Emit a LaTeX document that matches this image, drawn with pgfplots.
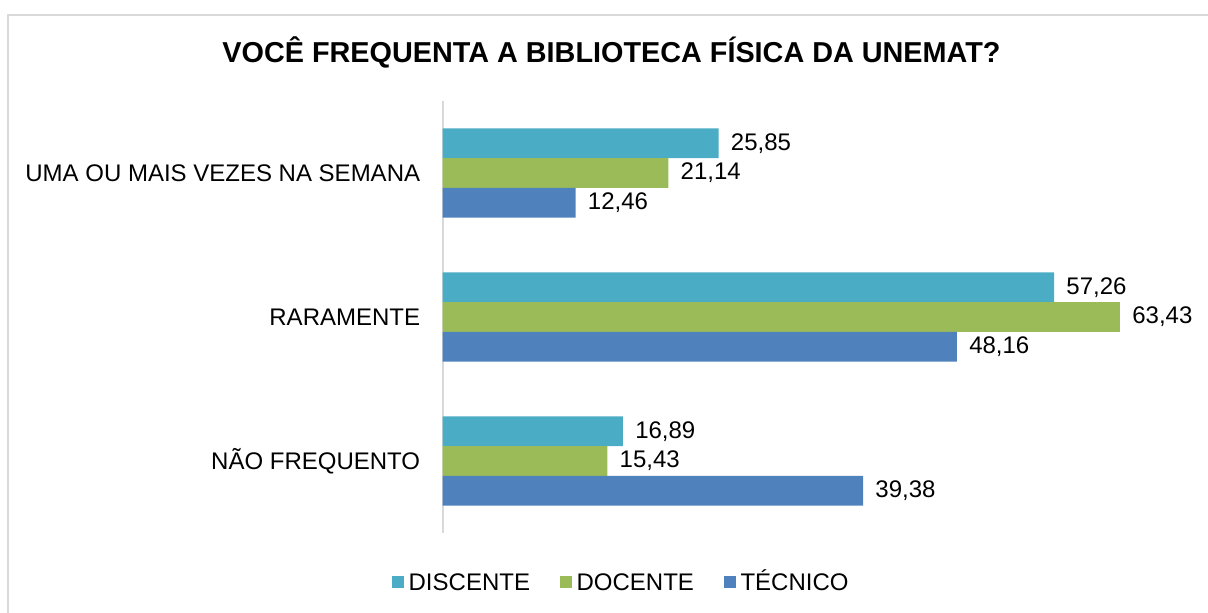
\documentclass[border=0pt]{standalone}
\usepackage{fontspec}
\setmainfont{Liberation Sans}
\usepackage{pgfplots}
\pgfplotsset{compat=1.18}
\definecolor{cDis}{HTML}{4BACC6}
\definecolor{cDoc}{HTML}{9BBB59}
\definecolor{cTec}{HTML}{4F81BD}
\definecolor{frameg}{HTML}{D9D9D9}
\begin{document}
\begin{tikzpicture}
\begin{axis}[
  at={(221.25pt,39.5pt)}, anchor=south west,
  scale only axis, width=373.8pt, height=216pt,
  xbar, bar width=0.207,
  xmin=0, xmax=70, ymin=-0.5, ymax=2.5,
  axis x line=none,
  axis y line*=left,
  axis line style={draw=frameg, line width=1pt},
  ytick={0,1,2},
  yticklabels={NÃO FREQUENTO, RARAMENTE, UMA OU MAIS VEZES NA SEMANA},
  major tick length=0pt,
  yticklabel style={font=\fontsize{12pt}{14pt}\selectfont, inner sep=0pt, xshift=-11pt},
  /pgf/number format/assume math mode=true,
  nodes near coords={\pgfmathprintnumber[fixed,fixed zerofill,precision=2,use comma,assume math mode=true]{\pgfplotspointmeta}},
  nodes near coords align=horizontal,
  every node near coord/.append style={font=\fontsize{12pt}{14pt}\selectfont, inner sep=0pt, anchor=west, xshift=6pt, text=black},
  legend style={draw=none, fill=none, inner sep=0pt,
    at={(axis description cs:-0.068,-0.1134)}, anchor=west,
    font=\fontsize{12pt}{14pt}\selectfont,
    nodes={inner sep=0pt, text height=8.6pt, text depth=0pt},
    /tikz/every even column/.append style={column sep=15pt},
    /tikz/every odd column/.append style={column sep=2.5pt}},
  legend columns=-1,
  legend image code/.code={\fill[#1,draw=none] (0pt,-2.9pt) rectangle (5.8pt,2.9pt);},
  clip=false,
]
\addplot[fill=cDis, draw=none, bar shift=0.207] coordinates {(25.85,2) (57.26,1) (16.89,0)};
\addplot[fill=cDoc, draw=none, bar shift=0] coordinates {(21.14,2) (63.43,1) (15.43,0)};
\addplot[fill=cTec, draw=none, bar shift=-0.207] coordinates {(12.46,2) (48.16,1) (39.38,0)};
\legend{DISCENTE, DOCENTE, TÉCNICO}
\end{axis}
\node[anchor=base, inner sep=0pt, font=\bfseries\fontsize{14.4pt}{17pt}\selectfont] at (305.75pt,274.5pt) {VOCÊ FREQUENTA A BIBLIOTECA FÍSICA DA UNEMAT?};
\draw[frameg, line width=1pt] (4.15pt,-20pt) -- (4.15pt,298.5pt) -- (640pt,298.5pt);
\pgfresetboundingbox
\useasboundingbox (0,0) rectangle (604pt,306pt);
\end{tikzpicture}
\end{document}
